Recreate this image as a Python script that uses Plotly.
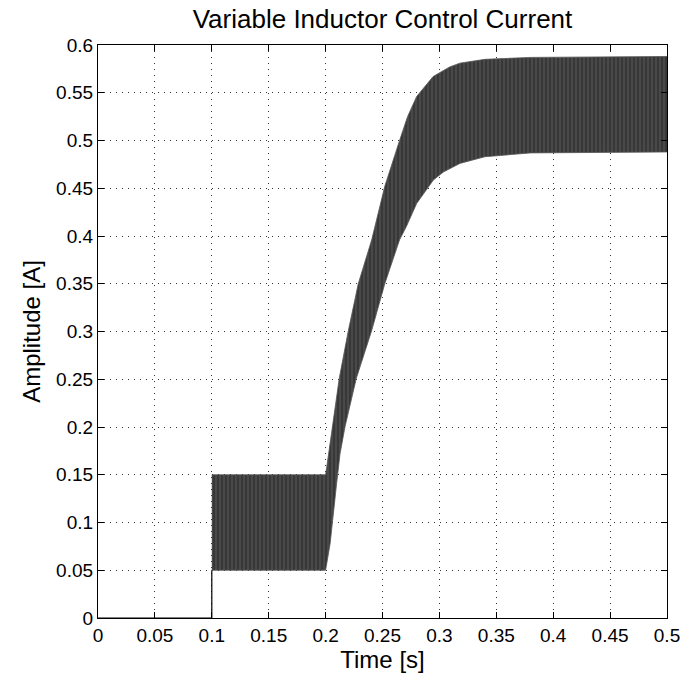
import plotly.graph_objects as go

# ---------------- text ----------------
title_text = "Variable Inductor Control Current"
x_label = "Time [s]"
y_label = "Amplitude [A]"

# ---------------- ticks ----------------
x_ticks = [0, 0.05, 0.1, 0.15, 0.2, 0.25, 0.3, 0.35, 0.4, 0.45, 0.5]
x_tick_labels = ["0", "0.05", "0.1", "0.15", "0.2", "0.25", "0.3", "0.35", "0.4", "0.45", "0.5"]
y_ticks = [0, 0.05, 0.1, 0.15, 0.2, 0.25, 0.3, 0.35, 0.4, 0.45, 0.5, 0.55, 0.6]
y_tick_labels = ["0", "0.05", "0.1", "0.15", "0.2", "0.25", "0.3", "0.35", "0.4", "0.45", "0.5", "0.55", "0.6"]

# ---------------- data ----------------
# current before the controller switches on
pre_time = [0.0, 0.1, 0.1]
pre_current = [0.0, 0.0, 0.05]

# upper envelope of the high-frequency ripple
upper_time = [0.1, 0.2, 0.201, 0.2053, 0.212, 0.22, 0.2287, 0.2405, 0.252, 0.265,
              0.272, 0.28, 0.2945, 0.309, 0.318, 0.34, 0.38, 0.5]
upper_current = [0.15, 0.15, 0.158, 0.195, 0.251, 0.301, 0.35, 0.396, 0.452, 0.50,
                 0.525, 0.546, 0.567, 0.577, 0.581, 0.585, 0.587, 0.588]

# lower envelope of the high-frequency ripple
lower_time = [0.1, 0.2, 0.204, 0.2068, 0.2097, 0.2127, 0.217, 0.227, 0.2405, 0.252,
              0.265, 0.271, 0.28, 0.2947, 0.3035, 0.318, 0.34, 0.38, 0.5]
lower_current = [0.05, 0.05, 0.078, 0.106, 0.141, 0.172, 0.2, 0.251, 0.301, 0.35,
                 0.396, 0.41, 0.434, 0.4586, 0.467, 0.476, 0.483, 0.487, 0.488]

FONT = "Liberation Sans, Arial, Helvetica, sans-serif"

fig = go.Figure()

fig.add_trace(go.Scatter(
    x=pre_time, y=pre_current, mode="lines",
    line=dict(color="black", width=1.2), showlegend=False, hoverinfo="skip"))

fig.add_trace(go.Scatter(
    x=lower_time, y=lower_current, mode="lines",
    line=dict(color="#555555", width=0.8),
    showlegend=False, hoverinfo="skip"))

fig.add_trace(go.Scatter(
    x=upper_time, y=upper_current, mode="lines",
    line=dict(color="#555555", width=0.8),
    fill="tonexty", fillcolor="#3d3d3d",
    fillpattern=dict(shape="|", bgcolor="#383838", fgcolor="#8a8a8a",
                     size=4, solidity=0.2),
    showlegend=False, hoverinfo="skip"))

axis_common = dict(
    ticks="inside", ticklen=6, tickwidth=1, tickcolor="black",
    showline=True, linecolor="black", linewidth=1.2, mirror="ticks",
    showgrid=True, gridcolor="#333333", gridwidth=1, griddash="1px,5px",
    zeroline=False, automargin=False,
    tickfont=dict(family=FONT, size=19, color="black"),
)

fig.update_xaxes(
    range=[0, 0.5], tickvals=x_ticks, ticktext=x_tick_labels,
    title=dict(text=x_label, font=dict(family=FONT, size=24, color="black"), standoff=6),
    **axis_common)
fig.update_yaxes(
    range=[0, 0.6], tickvals=y_ticks, ticktext=y_tick_labels,
    title=dict(text=y_label, font=dict(family=FONT, size=24, color="black"), standoff=8),
    **axis_common)

fig.update_layout(
    width=684, height=679,
    margin=dict(l=98, r=17, t=45, b=61),
    paper_bgcolor="white", plot_bgcolor="white",
    title=dict(text=title_text, x=0.5, xref="paper", y=1 - 19 / 679, yref="container",
               xanchor="center", yanchor="middle",
               font=dict(family=FONT, size=26, color="black")),
    font=dict(family=FONT, color="black"),
)

fig.write_html("out.html", config={"displayModeBar": False},
               post_script="document.body.style.margin='0';")
